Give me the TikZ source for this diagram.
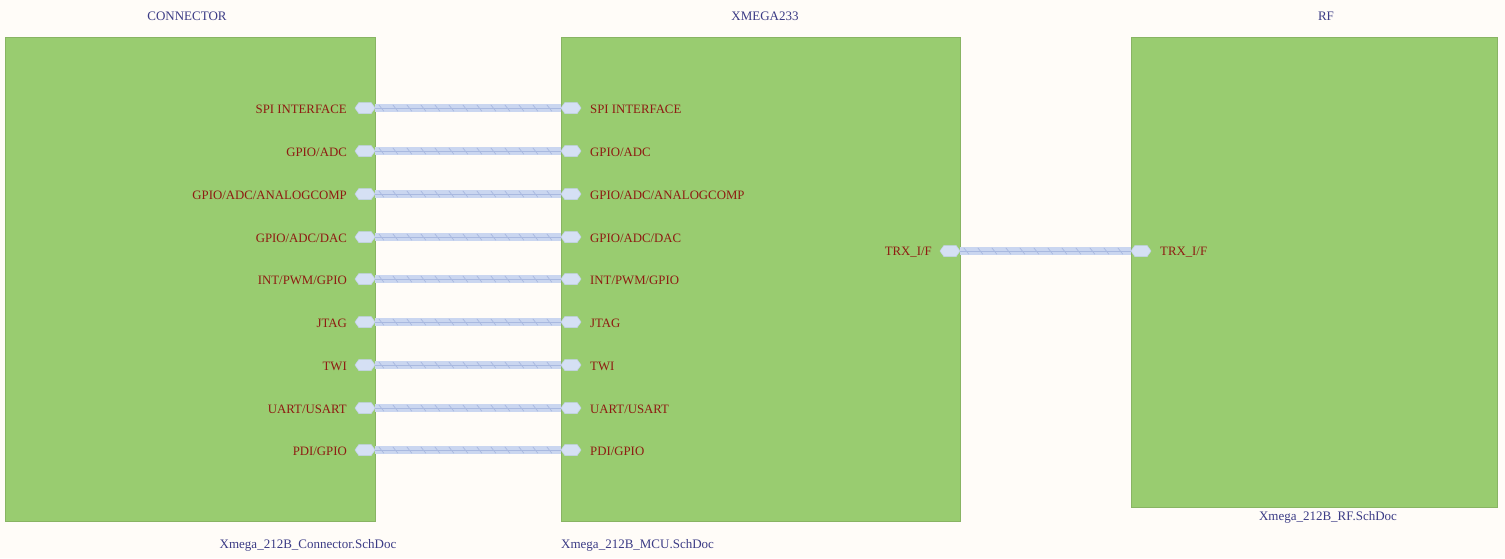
\documentclass[tikz,border=0pt]{standalone}
\usepackage{fontspec}
\setmainfont{Liberation Serif}
\usetikzlibrary{shapes.symbols,decorations.markings}
\definecolor{bg}{HTML}{FFFCF8}
\definecolor{sheet}{HTML}{99CC70}
\definecolor{sheetedge}{HTML}{88B463}
\definecolor{ttl}{HTML}{3B3B85}
\definecolor{lbl}{HTML}{8E1B12}
\definecolor{portc}{HTML}{D5E0F4}
\definecolor{portedge}{HTML}{C3D0EC}
\definecolor{busc}{HTML}{CAD6F0}
\definecolor{busdark}{HTML}{A9B9E0}
\tikzset{
  sheetbox/.style={draw=sheetedge, fill=sheet, line width=0.8pt, anchor=north west, inner sep=0pt},
  porthex/.style={shape=signal, signal to=west and east, signal pointer angle=110, fill=portc, draw=portedge, line width=0.5pt, minimum width=20pt, minimum height=11pt, inner sep=0pt},
  pinlbl/.style={text=lbl, font=\fontsize{12.8}{14}\selectfont, inner sep=0pt},
  titlelbl/.style={text=ttl, font=\fontsize{13}{15}\selectfont, inner sep=0pt},
  busline/.style={draw=busc, line width=7.5pt,
    postaction={draw=busdark, line width=0.6pt},
    postaction={decorate, decoration={markings,
      mark=between positions 6pt and -4pt step 14pt with {\draw[busdark, line width=0.7pt] (-2.5pt,3.2pt) -- (2.5pt,-3.2pt);}}}}
}
\begin{document}
\begin{tikzpicture}[x=1pt,y=-1pt]
\fill[bg] (0,0) rectangle (1505,558);
\useasboundingbox (0,0) rectangle (1505,558);

% sheets
\node[sheetbox, minimum width=370pt, minimum height=484pt] (conn) at (5,37) {};
\node[sheetbox, minimum width=399pt, minimum height=484pt] (mcu) at (561,37) {};
\node[sheetbox, minimum width=366pt, minimum height=470pt] (rf) at (1131,37) {};

% titles
\node[titlelbl] (tconn) at (187,16) {CONNECTOR};
\node[titlelbl] (tmcu) at (765,16) {XMEGA233};
\node[titlelbl] (trf) at (1326,16) {RF};
\node[titlelbl] (fconn) at (308,545) {Xmega\_212B\_Connector.SchDoc};
\node[titlelbl, anchor=west] (fmcu) at (561,545) {Xmega\_212B\_MCU.SchDoc};
\node[titlelbl] (frf) at (1328,517) {Xmega\_212B\_RF.SchDoc};

% ports and buses
\foreach \i/\yy/\txt in {1/108/{SPI INTERFACE}, 2/151/{GPIO/ADC}, 3/194/{GPIO/ADC/ANALOGCOMP}, 4/237/{GPIO/ADC/DAC}, 5/279/{INT/PWM/GPIO}, 6/322/{JTAG}, 7/365/{TWI}, 8/408/{UART/USART}, 9/450/{PDI/GPIO}}{
  \node[porthex] (cp\i) at (365,\yy) {};
  \node[porthex] (mp\i) at (571,\yy) {};
  \node[pinlbl, anchor=east] (cl\i) at (347,\yy+1) {\txt};
  \node[pinlbl, anchor=west] (ml\i) at (590,\yy+1) {\txt};
  \draw[busline] (cp\i.east) -- (mp\i.west);
}

\node[porthex] (mtrx) at (950,251) {};
\node[porthex] (rtrx) at (1141,251) {};
\node[pinlbl, anchor=east] (mtrxl) at (932,252) {TRX\_I/F};
\node[pinlbl, anchor=west] (rtrxl) at (1160,252) {TRX\_I/F};
\draw[busline] (mtrx.east) -- (rtrx.west);

\end{tikzpicture}
\end{document}
